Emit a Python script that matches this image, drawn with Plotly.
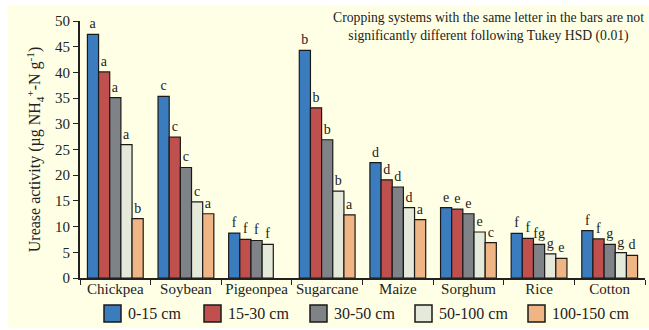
import plotly.graph_objects as go

crops = ["Chickpea", "Soybean", "Pigeonpea", "Sugarcane", "Maize", "Sorghum", "Rice", "Cotton"]
depths = ["0-15 cm", "15-30 cm", "30-50 cm", "50-100 cm", "100-150 cm"]

# Urease activity per depth layer (µg NH4+-N g-1), one list per depth
d0_15 = [47.4, 35.35, 8.75, 44.3, 22.45, 13.7, 8.7, 9.2]
d15_30 = [40.1, 27.4, 7.5, 33.1, 19.1, 13.4, 7.7, 7.6]
d30_50 = [35.1, 21.5, 7.3, 26.9, 17.7, 12.5, 6.55, 6.55]
d50_100 = [25.95, 14.8, 6.55, 16.9, 13.7, 8.95, 4.7, 4.95]
d100_150 = [11.55, 12.5, None, 12.3, 11.35, 6.9, 3.8, 4.4]

# Tukey HSD letters per depth layer
l0_15 = ["a", "c", "f", "b", "d", "e", "f", "f"]
l15_30 = ["a", "c", "f", "b", "d", "e", "f", "f"]
l30_50 = ["a", "c", "f", "b", "d", "e", "fg", "g"]
l50_100 = ["a", "c", "f", "b", "d", "e", "g", "g"]
l100_150 = ["b", "a", "", "a", "a", "c", "e", "d"]

colors = ["#3B7CBF", "#C0504D", "#7F8387", "#E4E9D9", "#F0B584"]
values = [d0_15, d15_30, d30_50, d50_100, d100_150]
letters = [l0_15, l15_30, l30_50, l50_100, l100_150]

FONT = "Liberation Serif"
W, H = 649, 330
ML, MR, MT, MB = 80, 4, 21, 52
PW, PH = W - ML - MR, H - MT - MB


def px_x(px):
    return (px - ML) / PW


def px_y(py):
    return (H - MB - py) / PH


fig = go.Figure()
for name, vals, labs, col in zip(depths, values, letters, colors):
    fig.add_trace(go.Bar(
        x=crops, y=vals, name=name, text=labs,
        textposition="outside", constraintext="none", cliponaxis=False,
        textfont=dict(family=FONT, size=14, color="#222222"),
        marker=dict(color=col, line=dict(color="#1a1a1a", width=1.2)),
        showlegend=False,
    ))

shapes = [dict(type="rect", xref="paper", yref="paper", layer="below",
               x0=px_x(8), x1=px_x(649), y0=px_y(328), y1=px_y(5),
               fillcolor="#FFFFE6", line=dict(width=0))]
annotations = []

# legend row: squares and labels
sq_x = [104, 204, 310, 415, 528]
for name, col, x0 in zip(depths, colors, sq_x):
    shapes.append(dict(type="rect", xref="paper", yref="paper",
                       x0=px_x(x0), x1=px_x(x0 + 17), y0=px_y(322), y1=px_y(305),
                       fillcolor=col, line=dict(color="#1a1a1a", width=1.5)))
    annotations.append(dict(xref="paper", yref="paper", x=px_x(x0 + 22), y=px_y(313.5),
                            text=name, showarrow=False, xanchor="left", yanchor="middle",
                            font=dict(family=FONT, size=16, color="#222222")))

annotations.append(dict(
    xref="paper", yref="paper", x=px_x(489), y=px_y(26.5),
    text="Cropping systems with the same letter in the bars are not<br>"
         "significantly different following Tukey HSD (0.01)",
    showarrow=False, xanchor="center", yanchor="middle", align="center",
    font=dict(family=FONT, size=13.7, color="#222222")))

fig.update_layout(
    width=W, height=H,
    margin=dict(l=ML, r=MR, t=MT, b=MB),
    paper_bgcolor="white", plot_bgcolor="rgba(0,0,0,0)",
    barmode="group", bargap=0.21, bargroupgap=0,
    font=dict(family=FONT, color="#222222"),
    shapes=shapes, annotations=annotations,
    xaxis=dict(showline=True, linecolor="#222222", linewidth=2,
               ticks="outside", tickson="boundaries", ticklen=5, tickcolor="#222222",
               tickangle=0, ticklabelstandoff=-4,
               tickfont=dict(family=FONT, size=15, color="#222222"),
               showgrid=False, zeroline=False),
    yaxis=dict(range=[0, 50], dtick=5, showline=True, linecolor="#222222", linewidth=2,
               ticks="outside", ticklen=5, tickcolor="#222222",
               tickfont=dict(family=FONT, size=15, color="#222222"),
               showgrid=False, zeroline=False,
               title=dict(text="Urease activity (µg NH<sub>4</sub><sup>+</sup>-N g<sup>-1</sup>)",
                          font=dict(family=FONT, size=16, color="#222222"), standoff=10)),
)

fig.write_html("out.html")
